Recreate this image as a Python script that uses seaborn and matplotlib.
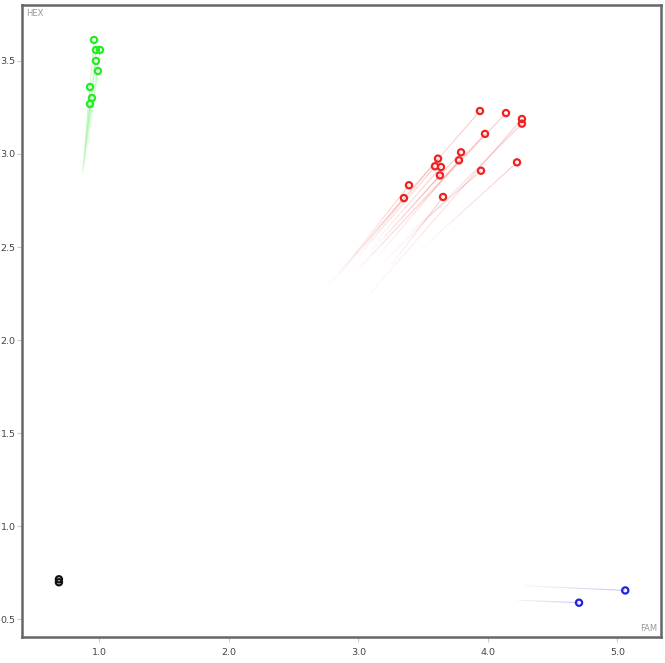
import numpy as np
import pandas as pd
import seaborn as sns
import matplotlib
matplotlib.use("Agg")
import matplotlib.pyplot as plt

# current positions of each group
green_x = [0.958, 0.973, 1.004, 0.973, 0.988, 0.927, 0.942, 0.927]
green_y = [3.613, 3.559, 3.559, 3.500, 3.446, 3.360, 3.301, 3.269]
red_x = [3.938, 4.139, 4.262, 4.262, 3.977, 3.792, 3.776, 3.614,
         3.591, 3.637, 3.629, 3.946, 4.224, 3.390, 3.351, 3.653]
red_y = [3.231, 3.220, 3.188, 3.163, 3.108, 3.009, 2.966, 2.975,
         2.934, 2.930, 2.885, 2.910, 2.955, 2.832, 2.763, 2.769]
blue_x = [5.060, 4.703]
blue_y = [0.654, 0.588]
black_x = [0.687, 0.687]
black_y = [0.714, 0.698]

# where the trails start
green_tail_x = [0.87, 0.875, 0.88, 0.87, 0.885, 0.87, 0.875, 0.87]
green_tail_y = [2.89, 2.92, 2.95, 2.90, 2.94, 2.90, 2.92, 2.91]
red_tail_x = [2.77, 3.00, 3.09, 3.20, 3.02, 3.10, 3.15, 3.05,
              3.00, 3.12, 3.20, 3.35, 3.55, 2.90, 2.85, 3.25]
red_tail_y = [2.30, 2.38, 2.25, 2.42, 2.40, 2.48, 2.45, 2.50,
              2.45, 2.52, 2.55, 2.55, 2.53, 2.40, 2.35, 2.40]
blue_tail_x = [4.278, 4.216]
blue_tail_y = [0.679, 0.602]

colors = {"green": "#22ee22", "red": "#ee2222", "blue": "#2222dd", "black": "#111111"}

rows = []
for g, xs, ys in [("green", green_x, green_y), ("red", red_x, red_y),
                  ("blue", blue_x, blue_y), ("black", black_x, black_y)]:
    for x, y in zip(xs, ys):
        rows.append({"FAM": x, "HEX": y, "group": g})
df = pd.DataFrame(rows)

sns.set_style("white")
fig = plt.figure(figsize=(6.65, 6.63), dpi=100)
ax = fig.add_axes([0.033, 0.039, 0.961, 0.9535])

# faded trails
n_seg = 12
for g, tx, ty, xs, ys in [("green", green_tail_x, green_tail_y, green_x, green_y),
                          ("red", red_tail_x, red_tail_y, red_x, red_y),
                          ("blue", blue_tail_x, blue_tail_y, blue_x, blue_y)]:
    for x0, y0, x1, y1 in zip(tx, ty, xs, ys):
        px = np.linspace(x0, x1, n_seg + 1)
        py = np.linspace(y0, y1, n_seg + 1)
        for i in range(n_seg):
            ax.plot(px[i:i + 2], py[i:i + 2], color=colors[g],
                    alpha=0.04 + 0.22 * i / n_seg, lw=0.8, solid_capstyle="butt")

sns.scatterplot(data=df, x="FAM", y="HEX", hue="group", palette=colors,
                marker="o", s=20, linewidth=1.6, legend=False, ax=ax, zorder=3)
for coll in ax.collections:
    coll.set_facecolor("none")
    coll.set_edgecolor([colors[g] for g in df["group"]])

ax.set_xlim(0.4015, 5.336)
ax.set_ylim(0.403, 3.801)
ax.set_xticks([1, 2, 3, 4, 5])
ax.set_yticks([0.5, 1.0, 1.5, 2.0, 2.5, 3.0, 3.5])
ax.set_xticklabels(["1.0", "2.0", "3.0", "4.0", "5.0"])
ax.set_yticklabels(["0.5", "1.0", "1.5", "2.0", "2.5", "3.0", "3.5"])
ax.tick_params(axis="both", length=3.5, width=0.8, color="#cccccc",
               labelsize=6.8, labelcolor="#444444", bottom=True, left=True)
ax.tick_params(axis="y", pad=1)
ax.tick_params(axis="x", pad=4)
ax.set_xlabel("")
ax.set_ylabel("")
for s in ax.spines.values():
    s.set_color("#666666")
    s.set_linewidth(1.8)

ax.text(0.006, 0.993, "HEX", transform=ax.transAxes, ha="left", va="top",
        fontsize=6, color="#999999")
ax.text(0.994, 0.006, "FAM", transform=ax.transAxes, ha="right", va="bottom",
        fontsize=6, color="#999999")

fig.savefig("out.png", dpi=100)
